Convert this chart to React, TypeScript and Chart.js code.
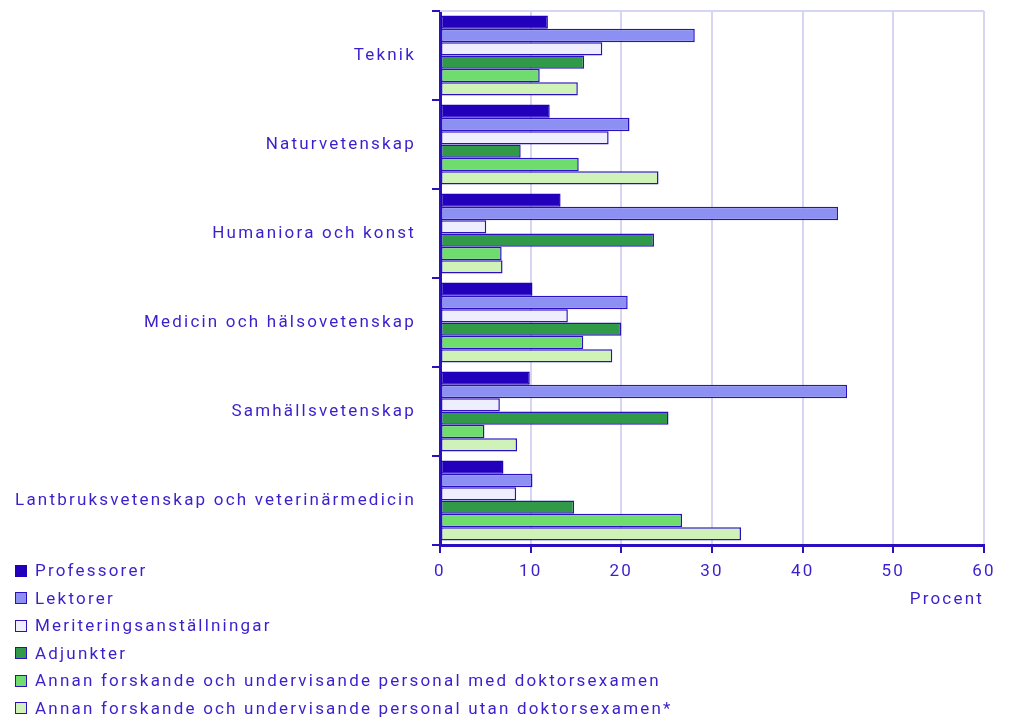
import React, { useEffect, useRef } from "react";
import { Chart, registerables } from "chart.js";

Chart.register(...registerables);

const categories = [
  "Teknik",
  "Naturvetenskap",
  "Humaniora och konst",
  "Medicin och hälsovetenskap",
  "Samhällsvetenskap",
  "Lantbruksvetenskap och veterinärmedicin",
];

const seriesNames = [
  "Professorer",
  "Lektorer",
  "Meriteringsanställningar",
  "Adjunkter",
  "Annan forskande och undervisande personal med doktorsexamen",
  "Annan forskande och undervisande personal utan doktorsexamen*",
];

const professorer = [11.9, 12.1, 13.3, 10.2, 9.9, 7.0];
const lektorer = [28.1, 20.9, 43.9, 20.7, 44.9, 10.2];
const meritering = [17.9, 18.6, 5.1, 14.1, 6.6, 8.4];
const adjunkter = [15.9, 8.9, 23.6, 20.0, 25.2, 14.8];
const annanMed = [11.0, 15.3, 6.8, 15.8, 4.9, 26.7];
const annanUtan = [15.2, 24.1, 6.9, 19.0, 8.5, 33.2];

const xTicks = [0, 10, 20, 30, 40, 50, 60];

const colors = ["#2200BB", "#8C90F2", "#EEEEFF", "#309A48", "#6EDD6E", "#CFF2B8"];
const TEXT = "#3A1FCC";
const DARK = "#2A10C0";
const GRID = "#D6D6F2";
const SPACING = "2.2px";

const seriesValues = [professorer, lektorer, meritering, adjunkter, annanMed, annanUtan];

export default function App() {
  const ref = useRef<HTMLCanvasElement | null>(null);

  useEffect(() => {
    if (!ref.current) return;
    const spacing = {
      id: "spacing",
      beforeUpdate(chart: any) {
        chart.ctx.letterSpacing = SPACING;
      },
      beforeLayout(chart: any) {
        chart.ctx.letterSpacing = SPACING;
      },
      beforeDraw(chart: any) {
        chart.ctx.letterSpacing = SPACING;
      },
    };
    const topLine = {
      id: "topLine",
      afterDraw(chart: any) {
        const { ctx, chartArea } = chart;
        ctx.save();
        ctx.strokeStyle = GRID;
        ctx.lineWidth = 2;
        ctx.beginPath();
        ctx.moveTo(chartArea.left, chartArea.top);
        ctx.lineTo(chartArea.right, chartArea.top);
        ctx.stroke();
        ctx.restore();
      },
    };
    const chart = new Chart(ref.current, {
      type: "bar",
      data: {
        labels: categories,
        datasets: seriesNames.map((name, i) => ({
          label: name,
          data: seriesValues[i],
          backgroundColor: colors[i],
          borderColor: i === 0 ? colors[0] : DARK,
          borderWidth: 1.5,
          borderSkipped: false,
          categoryPercentage: 0.9,
          barPercentage: 1.0,
        })),
      },
      options: {
        indexAxis: "y",
        animation: false,
        responsive: false,
        maintainAspectRatio: false,
        layout: { padding: { top: 11, right: 25, left: 0, bottom: 103 } },
        plugins: {
          legend: { display: false },
          tooltip: { enabled: false },
          title: { display: false },
        },
        scales: {
          x: {
            min: 0,
            max: 60,
            afterBuildTicks: (scale: any) => {
              scale.ticks = xTicks.map((v) => ({ value: v }));
            },
            afterFit: (scale: any) => {
              scale.height = 69;
            },
            grid: {
              color: GRID,
              lineWidth: 2,
              tickColor: DARK,
              tickLength: 8,
              drawTicks: true,
            },
            border: { color: DARK, width: 3 },
            ticks: {
              color: TEXT,
              font: { family: "Roboto", size: 17 },
              padding: 9,
            },
            title: {
              display: true,
              text: "Procent",
              align: "end",
              color: TEXT,
              font: { family: "Roboto", size: 17 },
              padding: { top: 7 },
            },
          },
          y: {
            afterFit: (scale: any) => {
              scale.width = 440;
              scale.paddingTop = 0;
              scale.paddingBottom = 0;
            },
            grid: {
              offset: true,
              drawOnChartArea: false,
              tickColor: DARK,
              tickLength: 8,
              lineWidth: 2,
            },
            border: { color: DARK, width: 3 },
            ticks: {
              color: TEXT,
              font: { family: "Roboto", size: 17 },
              padding: 16,
            },
          },
        },
      },
      plugins: [spacing, topLine],
    });
    return () => chart.destroy();
  }, []);

  return (
    <div style={{ position: "fixed", left: 0, top: 0, width: 1009, height: 717, background: "#fff" }}>
      <canvas ref={ref} width={1009} height={717} style={{ position: "absolute", left: 0, top: 0 }} />
      <div
        style={{
          position: "absolute",
          left: 15,
          top: 557,
          fontFamily: "Roboto",
          fontSize: 17,
          letterSpacing: SPACING,
          color: TEXT,
          lineHeight: "27.5px",
        }}
      >
        {seriesNames.map((name, i) => (
          <div key={name} style={{ display: "flex", alignItems: "center", whiteSpace: "nowrap" }}>
            <span
              style={{
                display: "inline-block",
                width: 10,
                height: 10,
                background: colors[i],
                border: `1px solid ${i === 0 ? colors[0] : DARK}`,
                marginRight: 8,
              }}
            />
            <span>{name}</span>
          </div>
        ))}
      </div>
    </div>
  );
}
